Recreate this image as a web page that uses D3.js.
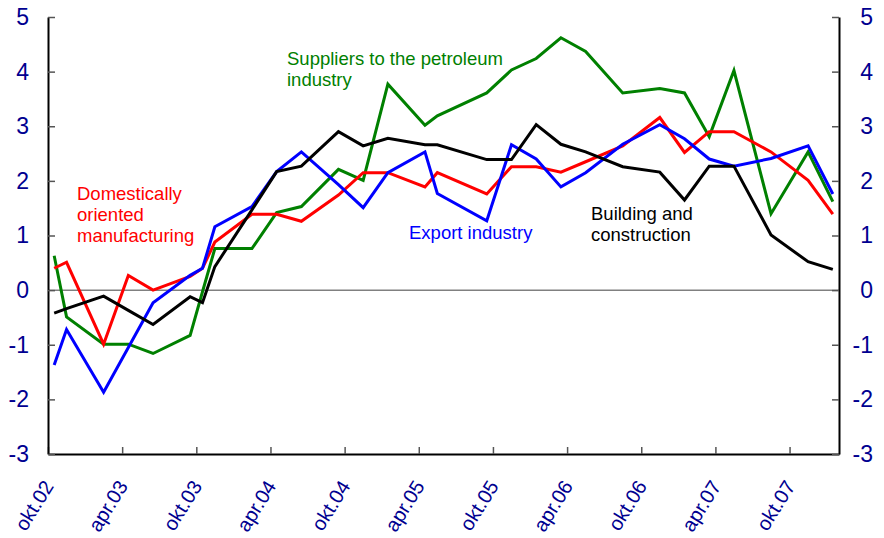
<!DOCTYPE html>
<html>
<head>
<meta charset="utf-8">
<script src="https://cdn.jsdelivr.net/npm/d3@7"></script>
<style>
    body { margin: 0; background: #fff; }
    svg { display: block; font-family: "Liberation Sans", Arial, sans-serif; }
</style>
</head>
<body>
<svg width="884" height="538"></svg>
<script>
// survey months (year-month) and net balance per industry
var surveyMonths = ["2002-10", "2002-11", "2003-02", "2003-04", "2003-06", "2003-09", "2003-10", "2003-11",
    "2004-02", "2004-04", "2004-06", "2004-09", "2004-11", "2005-01", "2005-04", "2005-05", "2005-09",
    "2005-11", "2006-01", "2006-03", "2006-05", "2006-08", "2006-11", "2007-01", "2007-03", "2007-05",
    "2007-08", "2007-11", "2008-01"];

var domesticValues = [0.40, 0.51, -0.99, 0.27, 0.00, 0.25, 0.40, 0.88, 1.39, 1.39, 1.26, 1.74, 2.15, 2.15,
    1.89, 2.15, 1.76, 2.26, 2.26, 2.16, 2.35, 2.64, 3.16, 2.52, 2.90, 2.90, 2.53, 2.01, 1.39];
var exportValues = [-1.37, -0.72, -1.87, -1.05, -0.23, 0.27, 0.40, 1.16, 1.53, 2.17, 2.53, 1.93, 1.51, 2.15,
    2.53, 1.77, 1.27, 2.66, 2.40, 1.89, 2.15, 2.67, 3.03, 2.77, 2.40, 2.27, 2.41, 2.64, 1.76];
var petroleumValues = [0.63, -0.49, -0.99, -0.99, -1.16, -0.83, -0.03, 0.76, 0.76, 1.42, 1.53, 2.21, 2.01, 3.77,
    3.02, 3.19, 3.61, 4.03, 4.24, 4.62, 4.37, 3.61, 3.69, 3.61, 2.81, 4.02, 1.40, 2.53, 1.62];
var buildingValues = [-0.42, -0.34, -0.11, -0.37, -0.63, -0.12, -0.23, 0.43, 1.47, 2.17, 2.27, 2.90, 2.64, 2.78,
    2.66, 2.66, 2.39, 2.39, 3.03, 2.67, 2.53, 2.26, 2.16, 1.65, 2.27, 2.27, 1.01, 0.52, 0.38];

var tickLabels = ["okt.02", "apr.03", "okt.03", "apr.04", "okt.04", "apr.05", "okt.05", "apr.06", "okt.06", "apr.07", "okt.07"];
var yTicks = [-3, -2, -1, 0, 1, 2, 3, 4, 5];

var seriesNames = ["Suppliers to the petroleum industry", "Domestically oriented manufacturing", "Export industry", "Building and construction"];
var seriesColors = ["#008000", "#ff0000", "#0000ff", "#000000"];

function monthIndex(s) {
    // months since okt.02
    var parts = s.split("-");
    return (Number(parts[0]) - 2002) * 12 + Number(parts[1]) - 10;
}

var plotLeft = 48, plotRight = 839, plotTop = 17, plotBottom = 454;
var axisColor = "#000090";

var x = d3.scaleLinear([-0.5, 63.5], [plotLeft, plotRight]);
var y = d3.scaleLinear([-3, 5], [plotBottom, plotTop]);

var svg = d3.select("svg");

// zero line
svg.append("line")
    .attr("x1", plotLeft).attr("x2", plotRight)
    .attr("y1", y(0)).attr("y2", y(0))
    .attr("stroke", "#808080")
    .attr("stroke-width", 1.5);

var tickMonths = tickLabels.map(function(d, i) { return -0.5 + 6 * i; });

var xAxis = svg.append("g")
    .attr("transform", "translate(0," + plotBottom + ")")
    .call(d3.axisBottom(x).tickValues(tickMonths).tickSize(-7).tickSizeOuter(0)
        .tickFormat(function(d, i) { return tickLabels[i]; }));
xAxis.select(".domain").attr("stroke", "#000").attr("stroke-width", 2);
xAxis.selectAll(".tick line").attr("stroke", "#555").attr("stroke-width", 1.5);
xAxis.selectAll(".tick text")
    .attr("y", 0).attr("dy", 0)
    .attr("transform", "translate(6,32) rotate(-58)")
    .attr("text-anchor", "end")
    .attr("fill", axisColor)
    .style("font-size", "20px");

// plain hyphen for negatives, like the original
var plainFormat = function(d) { return String(d); };

var yLeft = svg.append("g")
    .attr("transform", "translate(" + plotLeft + ",0)")
    .call(d3.axisLeft(y).tickValues(yTicks).tickFormat(plainFormat).tickSize(-7).tickSizeOuter(0).tickPadding(19));
var yRight = svg.append("g")
    .attr("transform", "translate(" + plotRight + ",0)")
    .call(d3.axisRight(y).tickValues(yTicks).tickFormat(plainFormat).tickSize(-7).tickSizeOuter(0));
[yLeft, yRight].forEach(function(g) {
    g.select(".domain").attr("stroke", "#000").attr("stroke-width", 2);
    g.selectAll(".tick line").attr("stroke", "#555").attr("stroke-width", 1.5);
    g.selectAll(".tick text").attr("fill", axisColor).style("font-size", "23px");
});
yRight.selectAll(".tick text").attr("x", 34).attr("text-anchor", "end");

var allSeries = [petroleumValues, domesticValues, exportValues, buildingValues];

var line = d3.line()
    .x(function(d, i) { return x(monthIndex(surveyMonths[i])); })
    .y(function(d) { return y(d); });

svg.append("g")
    .selectAll("path")
    .data(allSeries)
    .enter()
        .append("path")
        .attr("d", function(d) { return line(d); })
        .attr("fill", "none")
        .attr("stroke", function(d, i) { return seriesColors[i]; })
        .attr("stroke-width", 3);

// labels next to the lines
var labels = [
    { lines: ["Suppliers to the petroleum", "industry"], x: 287, y: 65, color: seriesColors[0] },
    { lines: ["Domestically", "oriented", "manufacturing"], x: 77, y: 200, color: seriesColors[1] },
    { lines: ["Export industry"], x: 409, y: 239, color: seriesColors[2] },
    { lines: ["Building and", "construction"], x: 591, y: 220, color: seriesColors[3] }
];

labels.forEach(function(l) {
    var t = svg.append("text")
        .attr("x", l.x).attr("y", l.y)
        .attr("fill", l.color)
        .style("font-size", "18.5px");
    l.lines.forEach(function(s, i) {
        t.append("tspan").attr("x", l.x).attr("dy", i == 0 ? 0 : 21).text(s);
    });
});
</script>
</body>
</html>
